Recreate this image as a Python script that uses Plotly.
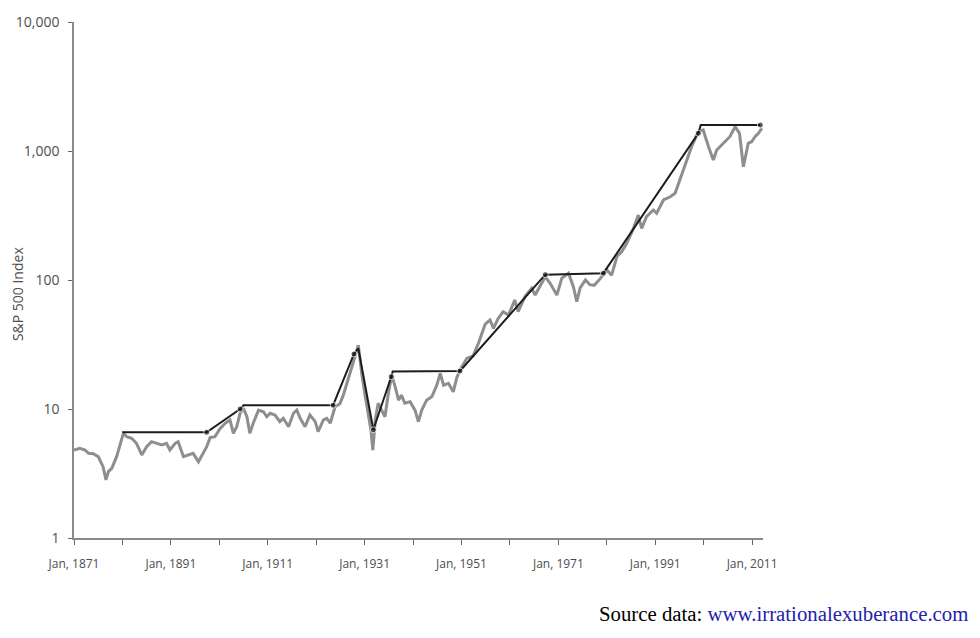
import plotly.graph_objects as go

# S&P 500 index, decimal years
sp_years = [
    1871.0, 1872.2, 1873.3, 1874.0, 1875.0, 1876.0, 1877.0, 1877.6, 1878.1, 1878.8,
    1879.8, 1880.5, 1881.2, 1881.9, 1882.9, 1883.9, 1885.0, 1886.0, 1887.0, 1888.1,
    1889.1, 1890.1, 1890.8, 1891.9, 1892.5, 1893.6, 1894.6, 1895.6, 1896.7, 1897.4,
    1898.4, 1899.1, 1900.1, 1901.1, 1902.2, 1903.2, 1903.9, 1904.6, 1905.3, 1906.0,
    1906.7, 1907.3, 1908.0, 1909.1, 1910.1, 1910.8, 1911.5, 1912.5, 1913.5, 1914.2,
    1915.3, 1916.3, 1917.0, 1917.7, 1918.7, 1919.7, 1920.8, 1921.4, 1922.5, 1923.2,
    1923.9, 1924.9, 1925.9, 1926.6, 1927.3, 1928.3, 1929.0, 1929.7, 1930.4, 1931.1,
    1931.8, 1932.3, 1932.7, 1933.2, 1933.8, 1934.5, 1935.2, 1935.9, 1936.6, 1937.3,
    1938.0, 1938.6, 1939.3, 1940.4, 1941.4, 1942.1, 1942.8, 1943.8, 1944.9, 1945.9,
    1946.6, 1947.3, 1948.3, 1949.3, 1950.0, 1950.7, 1952.1, 1953.4, 1954.5, 1955.9,
    1956.9, 1957.6, 1958.6, 1959.6, 1960.7, 1962.0, 1962.7, 1964.1, 1965.5, 1966.2,
    1967.2, 1968.3, 1969.3, 1970.7, 1971.7, 1973.1, 1974.1, 1974.8, 1975.5, 1976.6,
    1977.5, 1978.4, 1979.6, 1981.0, 1982.0, 1983.1, 1984.1, 1985.1, 1986.5, 1987.5,
    1988.2, 1989.2, 1990.6, 1991.3, 1992.7, 1994.1, 1995.1, 1996.1, 1997.5, 1998.5,
    1999.9, 2000.9, 2002.0, 2003.0, 2003.7, 2005.1, 2006.4, 2007.5, 2008.4, 2009.2,
    2010.2, 2010.9, 2011.6, 2012.3, 2013.0,
]
sp_values = [
    4.8, 4.96, 4.8, 4.53, 4.5, 4.27, 3.57, 2.82, 3.27, 3.47,
    4.27, 5.26, 6.48, 6.09, 5.93, 5.42, 4.4, 5.1, 5.58, 5.42,
    5.26, 5.42, 4.81, 5.42, 5.58, 4.27, 4.4, 4.53, 3.9, 4.4,
    5.1, 6.0, 6.1, 7.0, 7.75, 8.22, 6.48, 7.29, 9.27, 10.1,
    8.71, 6.48, 7.75, 9.8, 9.52, 8.71, 9.27, 8.98, 7.98, 8.47,
    7.29, 9.27, 9.8, 8.47, 7.29, 8.98, 7.98, 6.67, 8.22, 8.47,
    7.75, 10.4, 11.0, 12.8, 15.5, 21.3, 25.4, 31.3, 18.9, 12.8,
    9.26, 6.87, 4.8, 8.2, 11.1, 9.8, 8.7, 13.2, 18.3, 14.9,
    11.7, 12.8, 11.1, 11.4, 9.8, 7.98, 9.8, 11.7, 12.5, 15.3,
    18.9, 15.3, 15.8, 13.6, 17.3, 20.1, 24.7, 25.8, 32.3, 45.5,
    49.0, 42.2, 50.5, 56.8, 53.5, 70.0, 56.8, 74.3, 86.3, 76.5,
    88.8, 106, 94.2, 76.5, 103, 113, 88.8, 67.9, 87, 100,
    92, 91, 102, 120, 109, 152, 166, 192, 251, 319,
    251, 310, 349, 329, 417, 442, 470, 596, 851, 1080,
    1413, 1456, 1080, 851, 1018, 1148, 1291, 1543, 1370, 755,
    1148, 1180, 1291, 1370, 1500,
]

# piecewise "trend" line drawn over the index
trend_years = [1881.0, 1898.4, 1905.3, 1906.0, 1924.5, 1928.8, 1929.7, 1932.8,
               1936.5, 1936.8, 1950.7, 1968.3, 1980.3, 1999.9, 2000.4, 2012.7]
trend_values = [6.6, 6.6, 10.0, 10.7, 10.7, 26.7, 29.5, 6.9,
                17.8, 19.5, 19.7, 110, 113, 1372, 1590, 1590]
trend_dots = [0, 1, 1, 0, 1, 1, 0, 1, 1, 0, 1, 1, 1, 1, 0, 1]

x_ticks = list(range(1871, 2012, 10))
x_labels = [f"Jan, {y}" if (y - 1871) % 20 == 0 else "" for y in x_ticks]
y_ticks = [1, 10, 100, 1000, 10000]
y_labels = ["1", "10", "100", "1,000", "10,000"]

fig = go.Figure()
fig.add_trace(go.Scatter(
    x=sp_years, y=sp_values, mode="lines",
    line=dict(color="#8e8e8e", width=3),
    hoverinfo="skip",
))
fig.add_trace(go.Scatter(
    x=trend_years, y=trend_values, mode="lines+markers",
    line=dict(color="#1c1c1c", width=2),
    marker=dict(color="#1c1c1c", size=[6 * d for d in trend_dots]),
))

axis_font = dict(family="Open Sans, Lato, sans-serif", size=12, color="#4d4d4d")

# page body adds ~8px, margins account for that
fig.update_layout(
    width=980, height=638,
    margin=dict(l=66, r=225, t=14, b=108),
    plot_bgcolor="#ffffff",
    paper_bgcolor="#ffffff",
    showlegend=False,
    font=axis_font,
)

fig.update_xaxes(
    range=[1871, 2013.25], automargin=False,
    tickvals=x_ticks, ticktext=x_labels,
    showgrid=False, zeroline=False,
    showline=True, linecolor="#8a8a8a", linewidth=1.5,
    ticks="outside", ticklen=5, tickcolor="#666666", tickwidth=1,
    tickfont=axis_font, ticklabelstandoff=9,
)
fig.update_yaxes(
    type="log", range=[0, 4], automargin=False,
    tickvals=y_ticks, ticktext=y_labels,
    showgrid=False, zeroline=False,
    showline=True, linecolor="#8a8a8a", linewidth=1.5,
    ticks="outside", ticklen=4, tickcolor="#666666", tickwidth=1,
    tickfont=dict(family="Open Sans, Lato, sans-serif", size=14, color="#4d4d4d"),
    ticklabelstandoff=6,
)

fig.add_annotation(
    text="S&P 500 Index", textangle=-90,
    xref="paper", yref="paper", x=-0.081, y=0.473,
    xanchor="center", yanchor="middle", showarrow=False,
    font=dict(family="Open Sans, Lato, sans-serif", size=14, color="#4d4d4d"),
)
fig.add_annotation(
    text="Source data: <span style='color:#2222aa'>www.irrationalexuberance.com</span>",
    xref="paper", yref="paper", x=1.3005, y=-0.147,
    xanchor="right", yanchor="middle", showarrow=False,
    font=dict(family="Liberation Serif, serif", size=20.8, color="#000000"),
)

fig.write_html("out.html")
